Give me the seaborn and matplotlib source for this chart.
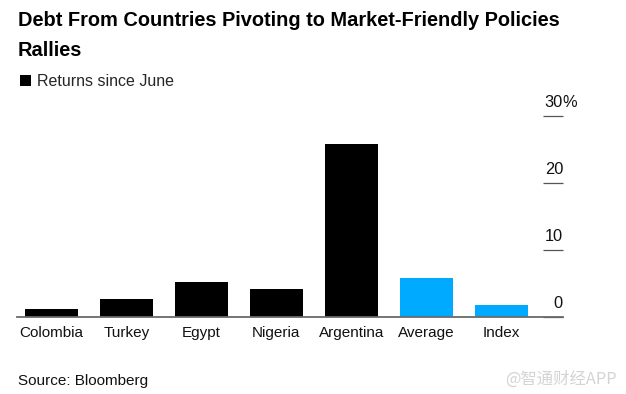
import matplotlib
matplotlib.use("Agg")
import matplotlib.pyplot as plt
import seaborn as sns
from matplotlib.patches import Patch

# data
countries = ["Colombia", "Turkey", "Egypt", "Nigeria", "Argentina", "Average", "Index"]
returns = [1.2, 2.7, 5.3, 4.2, 25.9, 5.9, 1.8]
bar_colors = ["#000000"] * 5 + ["#00aaff"] * 2
yticks = [0, 10, 20, 30]
ytick_labels = ["0", "10", "20", "30"]

sns.set_theme(style="white")
plt.rcParams["font.family"] = ["Liberation Sans", "DejaVu Sans"]

fig = plt.figure(figsize=(6.26, 3.94), dpi=100)
ax = fig.add_axes([17 / 626, 77 / 394, 546 / 626, 200.7 / 394])

sns.barplot(x=countries, y=returns, hue=countries, palette=bar_colors,
            legend=False, width=0.7, saturation=1, edgecolor="none", ax=ax)

ax.set_xlim(-0.458, 6.822)
ax.set_ylim(0, 30)
ax.set_xlabel("")
ax.set_ylabel("")

for s in ["top", "left", "right"]:
    ax.spines[s].set_visible(False)
ax.spines["bottom"].set_color("#6a6a6a")
ax.spines["bottom"].set_linewidth(1.3)

ax.tick_params(axis="x", length=0, pad=6.5, labelsize=11, labelcolor="#111111")
ax.set_yticks(yticks)
ax.tick_params(axis="y", left=False, right=True, labelleft=False, labelright=False,
               direction="in", length=14.2, width=0.9, color="#555555")

# right-side value labels sitting above the short tick marks
ytr = ax.get_yaxis_transform()
for v, lab in zip(yticks, ytick_labels):
    ax.annotate(lab, xy=(1, v), xycoords=ytr, xytext=(0, 6.5),
                textcoords="offset points", ha="right", va="baseline",
                fontsize=11.8, color="#111111")
ax.annotate("%", xy=(1, yticks[-1]), xycoords=ytr, xytext=(-0.8, 6.5),
            textcoords="offset points", ha="left", va="baseline",
            fontsize=11.8, color="#111111")

fig.text(18 / 626, 1 - 26 / 394,
         "Debt From Countries Pivoting to Market-Friendly Policies",
         fontsize=14.4, fontweight="bold", color="#000000", va="baseline")
fig.text(18 / 626, 1 - 56 / 394, "Rallies",
         fontsize=14.4, fontweight="bold", color="#000000", va="baseline")

fig.legend(handles=[Patch(facecolor="#000000", edgecolor="none")],
           labels=["Returns since June"], loc="upper left",
           bbox_to_anchor=(15 / 626, 1 - 69 / 394), frameon=False,
           fontsize=11.5, handlelength=0.7, handleheight=0.7,
           handletextpad=0.4, borderaxespad=0, borderpad=0.3)

fig.text(18 / 626, 1 - 385 / 394, "Source: Bloomberg", fontsize=11,
         color="#111111", va="baseline")
fig.text(505 / 626, 1 - 384 / 394, "@智通财经APP", fontsize=11.8,
         color="#d4d4d4", va="baseline",
         family=["Noto Sans CJK SC", "DejaVu Sans"])

fig.savefig("out.png", dpi=100)
